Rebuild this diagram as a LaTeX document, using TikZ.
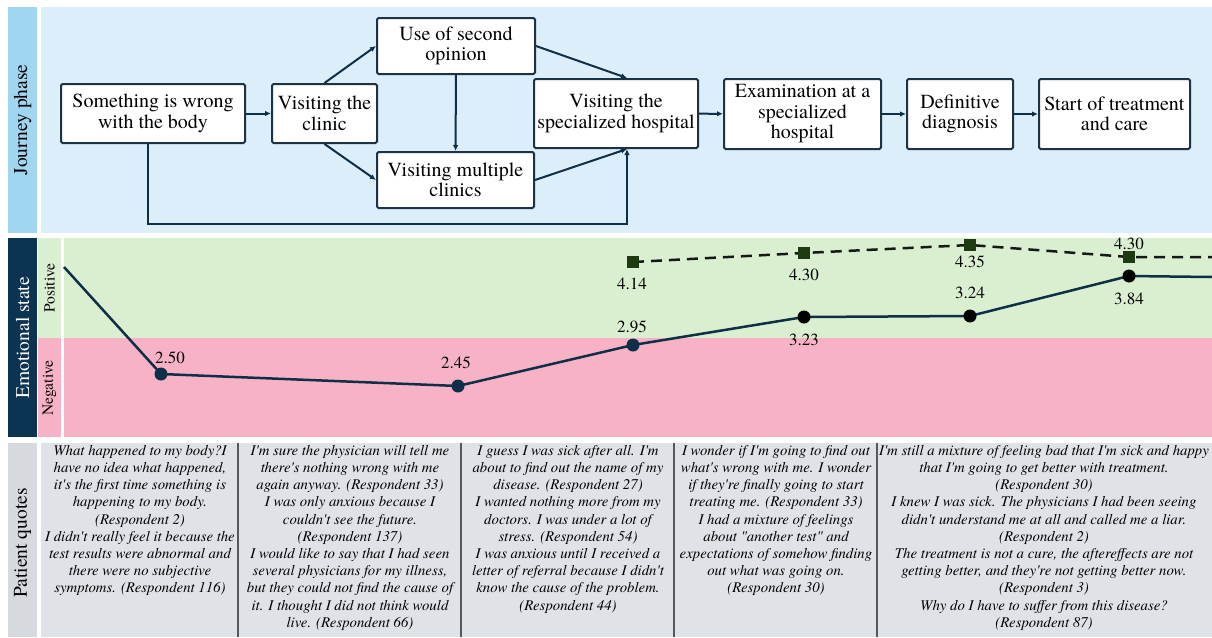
\documentclass[tikz,border=0pt]{standalone}
\usepackage{fontspec}
\setmainfont{texgyretermes}[Extension=.otf, UprightFont=*-regular, ItalicFont=*-italic, BoldFont=*-bold, BoldItalicFont=*-bolditalic]
\newcommand{\apo}{\textquotesingle}
\usetikzlibrary{arrows.meta,calc}
\definecolor{jlab}{RGB}{160,214,240}
\definecolor{jbg}{RGB}{221,238,251}
\definecolor{elab}{RGB}{11,52,82}
\definecolor{posc}{RGB}{217,239,207}
\definecolor{negc}{RGB}{248,178,197}
\definecolor{qlab}{RGB}{214,218,222}
\definecolor{qbg}{RGB}{223,226,230}
\definecolor{linec}{RGB}{14,47,71}
\definecolor{boxc}{RGB}{28,51,69}
\definecolor{sqc}{RGB}{30,58,16}
\definecolor{dashc}{RGB}{22,24,22}
\definecolor{sepc}{RGB}{85,88,92}
\begin{document}
\begin{tikzpicture}[x=1pt,y=-1pt,
  box/.style={draw=boxc, line width=2pt, fill=white, rounded corners=1.5pt, align=center, inner sep=0pt, font=\rmfamily\fontsize{20}{20.5}\selectfont},
  arr/.style={draw=linec, line width=2pt, -{Latex[length=6pt,width=5.5pt]}},
  quote/.style={anchor=north, align=center, inner sep=0pt, font=\rmfamily\fontsize{14.8}{17.2}\selectfont\itshape},
  lab/.style={rotate=90, inner sep=0pt, font=\rmfamily\fontsize{19.5}{20}\selectfont},
  sublab/.style={rotate=90, inner sep=0pt, font=\rmfamily\fontsize{15.5}{16}\selectfont},
  val/.style={font=\rmfamily\fontsize{17}{17}\selectfont, inner sep=0pt},
  dot/.style={circle, fill=linec, inner sep=0pt, minimum size=13pt},
  bdot/.style={circle, fill=black, inner sep=0pt, minimum size=13pt},
  sq/.style={rectangle, fill=sqc, inner sep=0pt, minimum size=12pt},
]
\useasboundingbox (0,0) rectangle (1212,637);
\fill[white] (0,0) rectangle (1212,637);
% backgrounds
\fill[jlab] (8,7) rectangle (37,233);
\fill[jbg] (41,7) rectangle (1212,233);
\fill[elab] (8,238) rectangle (37,437);
\fill[posc] (38,238) rectangle (61,338);
\fill[negc] (38,338) rectangle (61,437);
\fill[posc] (64,238) rectangle (1212,338);
\fill[negc] (64,338) rectangle (1212,437);
\fill[qlab] (8,443) rectangle (37,637);
\fill[qbg] (41,443) rectangle (1212,637);
\foreach \sx in {238,461,674,877} \draw[sepc, line width=1.5pt] (\sx,443) -- (\sx,637);
% side labels
\node[lab] (ljp) at (22.5,120) {Journey phase};
\node[lab, text=white] (les) at (22.5,338) {Emotional state};
\node[lab] (lpq) at (22.5,543) {Patient quotes};
\node[sublab] (lpos) at (49.5,288) {Positive};
\node[sublab] (lneg) at (49.5,388) {Negative};
% journey boxes
\node[box, minimum width=184pt, minimum height=59pt] (body) at (153,113.5) {Something is wrong\\with the body};
\node[box, minimum width=105pt, minimum height=59pt] (clinic) at (324.5,113.5) {Visiting the\\clinic};
\node[box, minimum width=158pt, minimum height=56pt] (second) at (456,46) {Use of second\\opinion};
\node[box, minimum width=157pt, minimum height=56pt] (multi) at (455.5,180) {Visiting multiple\\clinics};
\node[box, minimum width=164pt, minimum height=69pt] (spec) at (616,113.5) {Visiting the\\specialized hospital};
\node[box, minimum width=157pt, minimum height=70pt] (exam) at (802.5,114) {Examination at a\\specialized\\hospital};
\node[box, minimum width=106pt, minimum height=70pt] (diag) at (960,114) {Definitive\\diagnosis};
\node[box, minimum width=151pt, minimum height=70pt] (start) at (1114.5,114) {Start of treatment\\and care};
\coordinate (specin) at ($(spec.north)+(11,0)$);
\coordinate (specbot) at ($(spec.south)+(11,0)$);
\coordinate (bodyout) at ($(body.south)+(-5,0)$);
\draw[arr] (body) -- (clinic);
\draw[arr] (clinic.north) -- (second.west);
\draw[arr] (clinic.south) -- (multi.west);
\draw[arr] (second) -- (multi);
\draw[arr] (second.east) -- (specin);
\draw[arr] (multi.east) -- (specbot);
\draw[arr] (bodyout) -- ++(0,80) -| (specbot);
\draw[arr] (spec) -- (exam);
\draw[arr] (exam) -- (diag);
\draw[arr] (diag) -- (start);
% emotional curve
\coordinate (e0) at (64,267);
\coordinate (e1) at (161,374);
\coordinate (e2) at (458,386);
\coordinate (e3) at (633,345);
\coordinate (e4) at (804,317);
\coordinate (e5) at (970,316);
\coordinate (e6) at (1129,276);
\coordinate (e7) at (1212,277);
\coordinate (d1) at (633,262);
\coordinate (d2) at (804,253);
\coordinate (d3) at (970,245);
\coordinate (d4) at (1129,257);
\coordinate (d5) at (1212,257);
\draw[linec, line width=2.5pt, line join=round] (e0) -- (e1) -- (e2) -- (e3) -- (e4) -- (e5) -- (e6) -- (e7);
\draw[dashc, line width=2.5pt, dash pattern=on 11pt off 7pt] (d1) -- (d2) -- (d3) -- (d4) -- (d5);
\node[dot] (n1) at (e1) {};
\node[dot] (n2) at (e2) {};
\node[dot] (n3) at (e3) {};
\node[bdot] (n4) at (e4) {};
\node[bdot] (n5) at (e5) {};
\node[bdot] (n6) at (e6) {};
\node[sq] (s1) at (d1) {};
\node[sq] (s2) at (d2) {};
\node[sq] (s3) at (d3) {};
\node[sq] (s4) at (d4) {};
\node[val] (v1) at (170,358) {2.50};
\node[val] (v2) at (456,363) {2.45};
\node[val] (v3) at (632,327) {2.95};
\node[val] (v4) at (804,340) {3.23};
\node[val] (v5) at (970,293) {3.24};
\node[val] (v6) at (1129,299) {3.84};
\node[val] (w1) at (632,284) {4.14};
\node[val] (w2) at (804,275) {4.30};
\node[val] (w3) at (970,262) {4.35};
\node[val] (w4) at (1129,244) {4.30};
% quotes
\node[quote] (q1) at (140,445) {What happened to my body?I\\have no idea what happened,\\it\apo s the first time something is\\happening to my body.\\(Respondent 2)\\I didn\apo t really feel it because the\\test results were abnormal and\\there were no subjective\\symptoms. (Respondent 116)};
\node[quote] (q2) at (350,445) {I\apo m sure the physician will tell me\\there\apo s nothing wrong with me\\again anyway. (Respondent 33)\\I was only anxious because I\\couldn\apo t see the future.\\(Respondent 137)\\I would like to say that I had seen\\several physicians for my illness,\\but they could not find the cause of\\it. I thought I did not think would\\live. (Respondent 66)};
\node[quote] (q3) at (568,445) {I guess I was sick after all. I\apo m\\about to find out the name of my\\disease. (Respondent 27)\\I wanted nothing more from my\\doctors. I was under a lot of\\stress. (Respondent 54)\\I was anxious until I received a\\letter of referral because I didn\apo t\\know the cause of the problem.\\(Respondent 44)};
\node[quote] (q4) at (776,445) {I wonder if I\apo m going to find out\\what\apo s wrong with me. I wonder\\if they\apo re finally going to start\\treating me. (Respondent 33)\\I had a mixture of feelings\\about \textquotedbl another test\textquotedbl\ and\\expectations of somehow finding\\out what was going on.\\(Respondent 30)};
\node[quote] (q5) at (1044,445) {I\apo m still a mixture of feeling bad that I\apo m sick and happy\\that I\apo m going to get better with treatment.\\(Respondent 30)\\I knew I was sick. The physicians I had been seeing\\didn\apo t understand me at all and called me a liar.\\(Respondent 2)\\The treatment is not a cure, the aftereffects are not\\getting better, and they\apo re not getting better now.\\(Respondent 3)\\Why do I have to suffer from this disease?\\(Respondent 87)};
\end{tikzpicture}
\end{document}
